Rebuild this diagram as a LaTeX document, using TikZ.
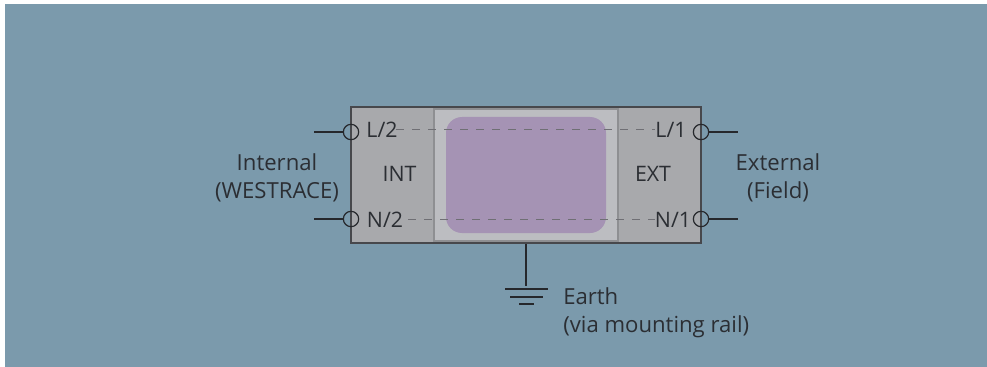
\documentclass[tikz,border=0pt]{standalone}
\usepackage{fontspec}
\setmainfont{Open Sans}
\usetikzlibrary{calc}
\definecolor{bgblue}{HTML}{7B9AAC}
\definecolor{boxgrey}{HTML}{A8A9AC}
\definecolor{innergrey}{HTML}{BCBDC1}
\definecolor{innerline}{HTML}{8E8F92}
\definecolor{purplefill}{HTML}{A593B4}
\definecolor{inkdark}{HTML}{26282C}
\definecolor{textdark}{HTML}{2B2E33}
\definecolor{dashgrey}{HTML}{6F6F74}
\tikzset{
  x=0.75pt,y=-0.75pt,
  lbl/.style={font=\fontsize{16.6}{21}\selectfont,text=textdark,inner sep=0pt,align=center},
  lblin/.style={lbl,font=\fontsize{16}{21}\selectfont},
  lblleft/.style={lbl,align=left,anchor=west},
  term/.style={circle,draw=inkdark,line width=0.9pt,minimum size=11.5pt,inner sep=0pt},
  wire/.style={draw=inkdark,line width=1.3pt},
  dashline/.style={draw=dashgrey,line width=0.75pt,dash pattern=on 6pt off 6pt},
}
\begin{document}
\begin{tikzpicture}
\useasboundingbox (0,0) rectangle (987,367);
\fill[white] (0,0) rectangle (987,367);
\fill[bgblue] (5,4) rectangle (987,367);
\node[draw=inkdark!85,line width=1.1pt,fill=boxgrey,minimum width=262.5pt,minimum height=102pt,inner sep=0pt] (outer) at (526,175) {};
\node[draw=innerline,line width=0.8pt,fill=innergrey,minimum width=138pt,minimum height=99pt,inner sep=0pt] (inner) at (526,175) {};
\node[fill=purplefill,rounded corners=12pt,minimum width=120pt,minimum height=87pt,inner sep=0pt] (chip) at (526,175) {};
\coordinate (dL2) at (396,129.5);
\coordinate (dL1) at (655,129.5);
\coordinate (dN2) at (408,219);
\coordinate (dN1) at (655,219);
\draw[dashline] (dL2) -- (dL1);
\draw[dashline] (dN2) -- (dN1);
\node[term] (tL2) at (351,132) {};
\node[term] (tN2) at (351,219) {};
\node[term] (tL1) at (701,132) {};
\node[term] (tN1) at (701,219) {};
\coordinate (wL2) at (314,132);
\coordinate (wN2) at (314,219);
\coordinate (wL1) at (738,132);
\coordinate (wN1) at (738,219);
\draw[wire] (wL2) -- (tL2);
\draw[wire] (wN2) -- (tN2);
\draw[wire] (tL1) -- (wL1);
\draw[wire] (tN1) -- (wN1);
\node[lblin] (nL2) at (382,129.5) {L/2};
\node[lblin] (nN2) at (385,219.5) {N/2};
\node[lblin] (nINT) at (399.5,173.5) {INT};
\node[lblin] (nL1) at (671,129.5) {L/1};
\node[lblin] (nN1) at (673,219.5) {N/1};
\node[lblin] (nEXT) at (653,173.5) {EXT};
\node[lbl] (nInt) at (277,177.5) {Internal\\(WESTRACE)};
\node[lbl] (nExt) at (778,177.5) {External\\(Field)};
\node[lblleft] (nEarth) at (563,312.5) {Earth\\(via mounting rail)};
\coordinate (g0) at (526,286);
\draw[wire] (outer.south -| g0) -- (g0);
\coordinate (g1a) at (505,288.7); \coordinate (g1b) at (548,288.7);
\coordinate (g2a) at (510,297); \coordinate (g2b) at (543,297);
\coordinate (g3a) at (519,304); \coordinate (g3b) at (534,304);
\draw[wire] (g1a) -- (g1b);
\draw[wire] (g2a) -- (g2b);
\draw[wire] (g3a) -- (g3b);
\end{tikzpicture}
\end{document}
